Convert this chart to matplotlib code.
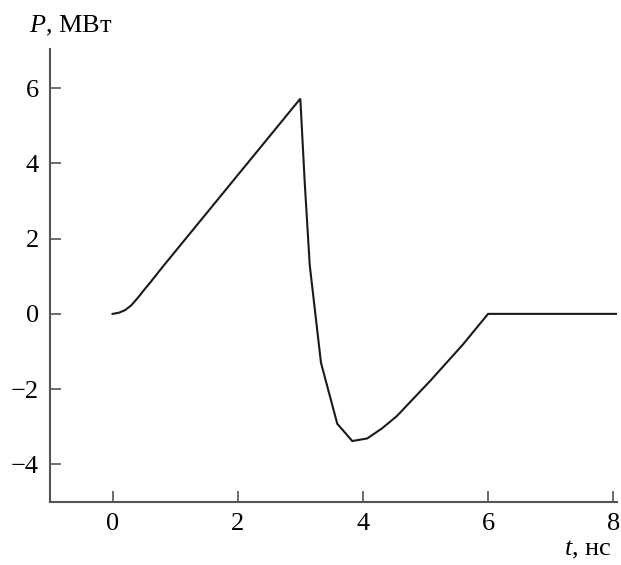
import matplotlib
matplotlib.use("Agg")
import matplotlib.pyplot as plt

plt.rcParams['font.family'] = ['Liberation Serif', 'DejaVu Serif']
plt.rcParams['mathtext.fontset'] = 'custom'
plt.rcParams['mathtext.it'] = 'Liberation Serif:italic'
plt.rcParams['mathtext.rm'] = 'Liberation Serif'

t = [0.0, 0.1, 0.2, 0.3, 0.4, 0.5, 0.6, 0.7, 0.8, 3.0, 3.07, 3.15, 3.33, 3.59, 3.83, 4.07, 4.3, 4.54, 5.07, 5.6, 6.0, 8.06]
P = [0.0, 0.03, 0.1, 0.23, 0.42, 0.63, 0.83, 1.04, 1.25, 5.72, 3.5, 1.3, -1.3, -2.92, -3.38, -3.31, -3.05, -2.72, -1.79, -0.81, 0.0, 0.0]

xticks = [0, 2, 4, 6, 8]
yticks = [-4, -2, 0, 2, 4, 6]

fig = plt.figure(figsize=(6.21, 5.65), dpi=100)
ax = fig.add_axes([50/621, 1-502/565, 567/621, 453/565])
ax.plot(t, P, color='#1a1a1a', lw=1.5, solid_joinstyle='miter')
ax.set_xlim(-1, 8.06)
ax.set_ylim(-5, 7.04)
ax.set_xticks(xticks)
ax.set_yticks(yticks)
ax.spines['top'].set_visible(False)
ax.spines['right'].set_visible(False)
for s in ['left', 'bottom']:
    ax.spines[s].set_color('#555555')
    ax.spines[s].set_linewidth(1.5)
ax.tick_params(direction='in', length=8, width=1.2, color='#555555', labelsize=19, pad=8)
fig.text(29/621, 1-32/565, r'$P$, МВт', fontsize=19, ha='left', va='baseline')
fig.text(612/621, 1-555/565, r'$t$, нс', fontsize=19, ha='right', va='baseline')
fig.savefig('out.png', dpi=100)
